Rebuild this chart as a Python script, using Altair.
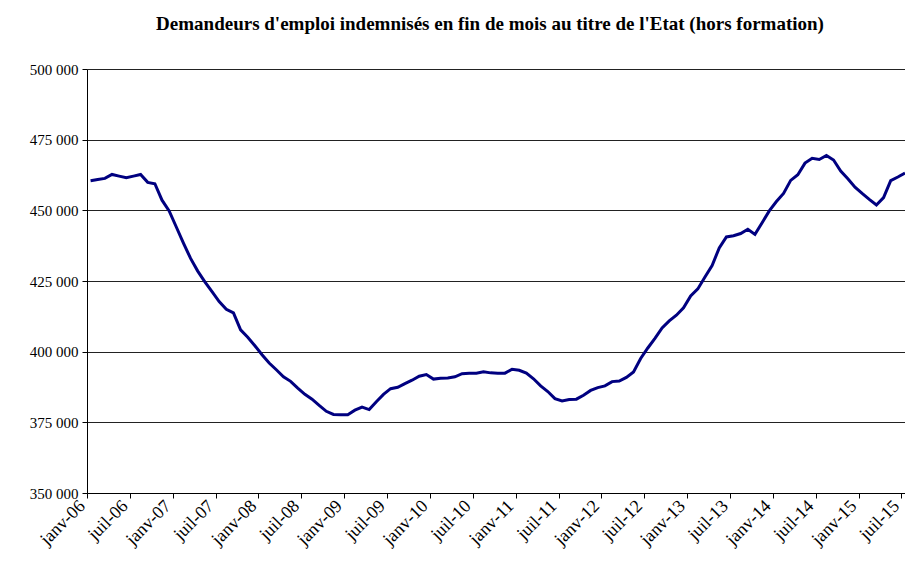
import altair as alt
import pandas as pd

title_text = "Demandeurs d'emploi indemnisés en fin de mois au titre de l'Etat (hors formation)"

tick_labels = [
    "janv-06", "juil-06", "janv-07", "juil-07", "janv-08", "juil-08",
    "janv-09", "juil-09", "janv-10", "juil-10", "janv-11", "juil-11",
    "janv-12", "juil-12", "janv-13", "juil-13", "janv-14", "juil-14",
    "janv-15", "juil-15",
]

y_ticks = [350000, 375000, 400000, 425000, 450000, 475000, 500000]

# monthly values, janv-06 .. juil-15
values = [
    460500, 460900, 461300, 462700, 462100, 461500, 462100, 462700, 459900, 459400,
    453600, 449800, 444100, 438400, 433000, 428500, 424700, 421200, 417700, 415000,
    413700, 407700, 405100, 402100, 398900, 396000, 393600, 391100, 389500, 387100,
    384900, 383200, 381000, 378900, 377800, 377700, 377700, 379300, 380400, 379500,
    382300, 384900, 386900, 387400, 388700, 389900, 391300, 391900, 390300, 390600,
    390700, 391100, 392200, 392400, 392400, 392900, 392500, 392400, 392400, 393800,
    393400, 392400, 390400, 387900, 385900, 383400, 382600, 383100, 383200, 384600,
    386300, 387300, 387900, 389400, 389600, 390900, 392800, 397600, 401300, 404700,
    408400, 410900, 412900, 415500, 419700, 422200, 426400, 430500, 436700, 440600,
    441000, 441800, 443300, 441500, 445600, 449800, 453100, 456000, 460600, 462600,
    466700, 468400, 468000, 469400, 467800, 463900, 461200, 458200, 456000, 453900,
    451900, 454500, 460500, 461800, 463200,
]

df = pd.DataFrame({"idx": list(range(len(values))), "value": values})

tick_vals = [6 * k - 0.5 for k in range(len(tick_labels))]
label_expr = "[" + ",".join("'%s'" % t for t in tick_labels) + "][round((datum.value+0.5)/6)]"

font = "Liberation Serif"

chart = alt.Chart(df).mark_line(color="#000080", strokeWidth=3).encode(
    x=alt.X(
        "idx:Q",
        scale=alt.Scale(domain=[-0.5, 114], nice=False, zero=False),
        axis=alt.Axis(
            values=tick_vals,
            labelExpr=label_expr,
            labelAngle=-45,
            labelAlign="right",
            labelBaseline="middle",
            labelFlush=False,
            labelOverlap=False,
            labelBound=False,
            labelOffset=-5,
            grid=False,
            title=None,
            domainColor="black",
            tickColor="black",
            tickSize=5,
            labelFont=font,
            labelFontSize=18,
            labelColor="black",
            labelPadding=5,
        ),
    ),
    y=alt.Y(
        "value:Q",
        scale=alt.Scale(domain=[350000, 500000], nice=False, zero=False),
        axis=alt.Axis(
            values=y_ticks,
            labelExpr="replace(format(datum.value, ','), ',', ' ')",
            grid=True,
            gridColor="#222222",
            gridWidth=1,
            title=None,
            domainColor="black",
            tickColor="black",
            tickSize=5,
            labelFont=font,
            labelFontSize=15,
            labelColor="black",
            labelPadding=4,
        ),
    ),
).properties(
    width=818,
    height=424,
    title=alt.TitleParams(
        text=title_text,
        font=font,
        fontSize=19,
        fontWeight="bold",
        color="black",
        anchor="middle",
        offset=28,
        dx=-6,
    ),
    autosize=alt.AutoSizeParams(type="none"),
    padding={"left": 79, "top": 61, "right": 0, "bottom": 60},
).configure_view(stroke=None).configure(background="white")

chart.save("out.html", embed_options={"renderer": "svg", "actions": False})
